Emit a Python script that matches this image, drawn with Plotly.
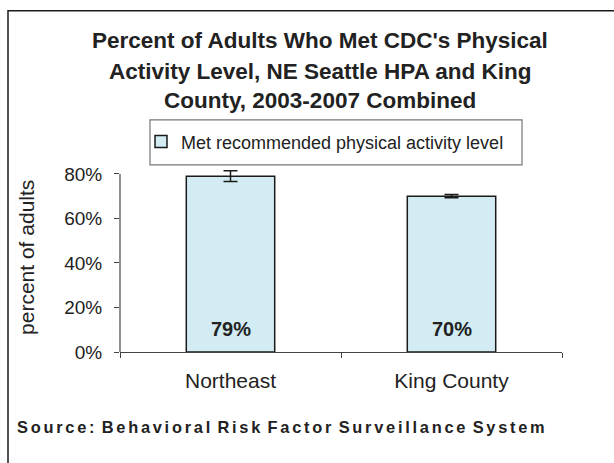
import plotly.graph_objects as go

# Data
regions = ["Northeast", "King County"]
pct_met = [0.79, 0.70]
ci_half_width = [0.024, 0.007]
series_name = "Met recommended physical activity level"
title_lines = [
    "Percent of Adults Who Met CDC's Physical",
    "Activity Level, NE Seattle HPA and King",
    "County, 2003-2007 Combined",
]
y_title = "percent of adults"
y_ticks = [0, 0.2, 0.4, 0.6, 0.8]
source_note = "Source: Behavioral Risk Factor Surveillance System"

FONT = "Liberation Sans, Arial, sans-serif"
W, H = 614, 463
Y_TOP = 0.84                      # a little headroom so the error caps are not clipped
ZERO_PIX, TOP_TICK_PIX = 352, 174  # pixel rows of 0% and 80%
L, R, B = 120, 52, H - ZERO_PIX
PH = (ZERO_PIX - TOP_TICK_PIX) * Y_TOP / y_ticks[-1]
T = H - B - PH
PW = W - L - R


def px(xp):
    return (xp - L) / PW


def py(yp):
    return (ZERO_PIX - yp) / PH


def spaced(s):
    # widen the tracking of the source line with hair spaces
    gap = "\u200a\u200a"
    return (" " + gap).join(gap.join(word) for word in s.split(" "))


fig = go.Figure()
fig.add_trace(go.Bar(
    x=regions,
    y=pct_met,
    name=series_name,
    marker=dict(color="#D3ECF3", line=dict(color="#1a1a1a", width=1.5)),
    error_y=dict(type="data", array=ci_half_width, visible=True,
                 color="#1a1a1a", thickness=1.5, width=7),
    showlegend=True,
))

annotations = []
for i, line in enumerate(title_lines):
    annotations.append(dict(
        text=f"<b>{line}</b>", x=px(320), y=py([41, 72, 101][i]),
        xref="paper", yref="paper", xanchor="center", yanchor="middle",
        showarrow=False, font=dict(family=FONT, size=22.5, color="#222"),
    ))

for r, v in zip(regions, pct_met):
    annotations.append(dict(
        text=f"<b>{v:.0%}</b>", x=r, y=0, xref="x", yref="y",
        yanchor="middle", yshift=23, showarrow=False,
        font=dict(family=FONT, size=20, color="#222"),
    ))

annotations.append(dict(
    text=y_title, x=px(27), y=py(258), xref="paper", yref="paper",
    textangle=-90, xanchor="center", yanchor="middle", showarrow=False,
    font=dict(family=FONT, size=21, color="#222"),
))
annotations.append(dict(
    text=f"<b>{spaced(source_note)}</b>", x=px(15), y=py(427), xref="paper", yref="paper",
    xanchor="left", yanchor="middle", showarrow=False,
    font=dict(family=FONT, size=16.4, color="#222"),
))

shapes = [
    # outer chart frame
    dict(type="rect", xref="paper", yref="paper",
         x0=px(8), x1=px(640), y0=py(490), y1=py(11),
         line=dict(color="#1a1a1a", width=1.5), fillcolor="rgba(0,0,0,0)", layer="below"),
    # legend frame
    dict(type="rect", xref="paper", yref="paper",
         x0=px(150), x1=px(522), y0=py(165), y1=py(120),
         line=dict(color="#777", width=1.2), fillcolor="rgba(0,0,0,0)"),
    # value axis line, ending at the top tick
    dict(type="line", xref="paper", yref="y", x0=0, x1=0, y0=y_ticks[0], y1=y_ticks[-1],
         line=dict(color="#444", width=1.2)),
]

fig.update_layout(
    width=W, height=H,
    margin=dict(l=L, r=R, t=T, b=B),
    paper_bgcolor="white", plot_bgcolor="white",
    font=dict(family=FONT, color="#222"),
    bargap=0.6,
    showlegend=True,
    legend=dict(x=px(141), y=py(142), xanchor="left", yanchor="middle",
                bgcolor="rgba(0,0,0,0)", borderwidth=0,
                font=dict(family=FONT, size=18, color="#222"),
                itemwidth=30),
    annotations=annotations,
    shapes=shapes,
    xaxis=dict(showline=True, linecolor="#444", linewidth=1.2,
               ticks="outside", tickson="boundaries", ticklen=5, tickcolor="#444",
               tickfont=dict(family=FONT, size=21, color="#222"),
               ticklabelstandoff=10, showgrid=False, fixedrange=True),
    yaxis=dict(range=[0, Y_TOP], tickvals=y_ticks, tickformat=".0%",
               showline=False,
               ticks="outside", ticklen=5, tickcolor="#444",
               tickfont=dict(family=FONT, size=19, color="#222"),
               ticklabelstandoff=8, showgrid=False, zeroline=False, fixedrange=True),
)

fig.write_html("out.html")
